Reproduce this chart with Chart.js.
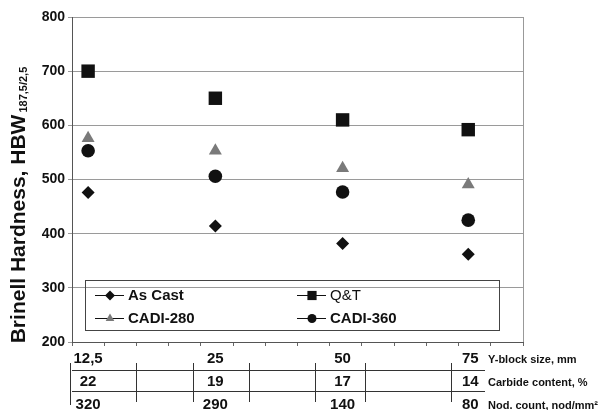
<!DOCTYPE html>
<html>
<head>
<meta charset="utf-8">
<script src="https://cdn.jsdelivr.net/npm/chart.js@4.4.1/dist/chart.umd.min.js"></script>
<style>
  html, body { margin: 0; padding: 0; background: #fff; }
  #wrap { width: 599px; height: 410px; position: relative; }
</style>
</head>
<body>
<div id="wrap"><canvas id="hardChart" width="599" height="410"></canvas></div>
<script>
// positions of the four Y-block sizes along the (hidden) x scale
const xPos = [0.5, 4.45, 8.4, 12.3];

// hardness values, HBW
const asCast = [476, 414, 382, 362];
const qt = [700, 650, 610, 592];
const cadi280 = [576, 553, 521, 491];
const cadi360 = [553, 506, 477, 425];

// table under the chart
const yBlock = ['12,5', '25', '50', '75'];
const carbide = ['22', '19', '17', '14'];
const nodCount = ['320', '290', '140', '80'];
const rowNames = ['Y-block size, mm', 'Carbide content, %', 'Nod. count, nod/mm²'];
// table divider lines, in x scale units
const tableDividers = [-0.05, 2.0, 3.77, 5.5, 7.55, 9.1, 11.75];

const FONT = "'Liberation Sans', Arial, sans-serif";

function pts(vals) {
    return vals.map((v, i) => ({ x: xPos[i], y: v }));
}

// y title with subscript, legend box, table + right border
const extras = {
    id: 'extras',
    afterDraw(chart) {
        const ctx = chart.ctx;
        const area = chart.chartArea;
        const xs = chart.scales.x;
        ctx.save();

        // right border of plot
        ctx.strokeStyle = '#999';
        ctx.lineWidth = 1;
        ctx.beginPath();
        ctx.moveTo(area.right + 0.5, area.top);
        ctx.lineTo(area.right + 0.5, area.bottom);
        ctx.stroke();

        // y axis title
        ctx.save();
        ctx.translate(19, 205);
        ctx.rotate(-Math.PI / 2);
        ctx.fillStyle = '#111';
        ctx.textBaseline = 'middle';
        const main = 'Brinell Hardness, HBW';
        const sub = '187,5/2,5';
        ctx.font = 'bold 21px ' + FONT;
        const w1 = ctx.measureText(main).width;
        ctx.font = 'bold 11px ' + FONT;
        const w2 = ctx.measureText(sub).width;
        const start = -(w1 + w2 + 2) / 2;
        ctx.font = 'bold 21px ' + FONT;
        ctx.textAlign = 'left';
        ctx.fillText(main, start, 0);
        ctx.font = 'bold 11px ' + FONT;
        ctx.fillText(sub, start + w1 + 2, 5);
        ctx.restore();

        // legend
        ctx.strokeStyle = '#444';
        ctx.lineWidth = 1;
        ctx.strokeRect(85.5, 280.5, 414, 50);
        const items = [
            { ds: 0, x: 95, y: 295 },
            { ds: 1, x: 297, y: 295 },
            { ds: 2, x: 95, y: 318 },
            { ds: 3, x: 297, y: 318 }
        ];
        items.forEach(it => {
            const d = chart.data.datasets[it.ds];
            ctx.strokeStyle = '#111';
            ctx.lineWidth = 1;
            ctx.beginPath();
            ctx.moveTo(it.x, it.y + 0.5);
            ctx.lineTo(it.x + 29, it.y + 0.5);
            ctx.stroke();
            ctx.fillStyle = d.backgroundColor;
            Chart.helpers.drawPoint(ctx, {
                pointStyle: d.pointStyle,
                radius: d.legendRadius,
                borderWidth: 0
            }, it.x + 15, it.y + 0.5);
            ctx.fillStyle = '#111';
            ctx.font = (d.label === 'Q&T' ? '' : 'bold ') + '15px ' + FONT;
            ctx.textAlign = 'left';
            ctx.textBaseline = 'middle';
            ctx.fillText(d.label, it.x + 33, it.y + 1);
        });

        // table under the x axis
        const rows = [yBlock, carbide, nodCount];
        const rowY = [359, 382, 405];
        ctx.fillStyle = '#111';
        ctx.textBaseline = 'middle';
        rows.forEach((row, r) => {
            ctx.font = 'bold 15px ' + FONT;
            ctx.textAlign = 'center';
            row.forEach((t, i) => {
                ctx.fillText(t, xs.getPixelForValue(xPos[i]) + (i === 3 ? 2 : 0), rowY[r]);
            });
            ctx.font = 'bold 11px ' + FONT;
            ctx.textAlign = 'left';
            ctx.fillText(rowNames[r], 488, rowY[r] + 1);
        });
        ctx.strokeStyle = '#333';
        ctx.lineWidth = 1;
        [370.5, 391.5].forEach(y => {
            ctx.beginPath();
            ctx.moveTo(area.left, y);
            ctx.lineTo(485, y);
            ctx.stroke();
        });
        tableDividers.forEach((v, i) => {
            const px = Math.round(xs.getPixelForValue(v)) + 0.5;
            ctx.beginPath();
            ctx.moveTo(px, 363);
            ctx.lineTo(px, i === 0 ? 405 : 402);
            ctx.stroke();
        });
        ctx.restore();
    }
};

new Chart(document.getElementById('hardChart'), {
    type: 'scatter',
    data: {
        datasets: [
            { label: 'As Cast', data: pts(asCast), pointStyle: 'rectRot', radius: 6.5, legendRadius: 5,
              backgroundColor: '#111', borderColor: '#111' },
            { label: 'Q&T', data: pts(qt), pointStyle: 'rect', radius: 9.5, legendRadius: 6.5,
              backgroundColor: '#111', borderColor: '#111' },
            { label: 'CADI-280', data: pts(cadi280), pointStyle: 'triangle', radius: 7.5, legendRadius: 5,
              backgroundColor: '#7a7a7a', borderColor: '#7a7a7a' },
            { label: 'CADI-360', data: pts(cadi360), pointStyle: 'circle', radius: 6.8, legendRadius: 4.5,
              backgroundColor: '#111', borderColor: '#111' }
        ]
    },
    options: {
        responsive: false,
        animation: false,
        layout: { padding: { top: 17, right: 76, left: 0, bottom: 0 } },
        plugins: {
            legend: { display: false },
            tooltip: { enabled: false }
        },
        elements: { point: { borderWidth: 0, hoverRadius: 0 } },
        scales: {
            x: {
                type: 'linear',
                min: 0,
                max: 14,
                ticks: { stepSize: 1, callback: () => '', font: { size: 1 } },
                grid: { drawOnChartArea: false, drawTicks: true, tickLength: 4, color: '#666' },
                border: { color: '#555' },
                afterFit(scale) { scale.height = 68; }
            },
            y: {
                min: 200,
                max: 800,
                ticks: {
                    stepSize: 100,
                    color: '#111',
                    padding: 3,
                    font: { family: FONT, size: 14, weight: 'bold' }
                },
                grid: { color: '#9a9a9a', tickLength: 4 },
                border: { color: '#555' },
                afterFit(scale) { scale.width = 72; }
            }
        }
    },
    plugins: [extras]
});
</script>
</body>
</html>
